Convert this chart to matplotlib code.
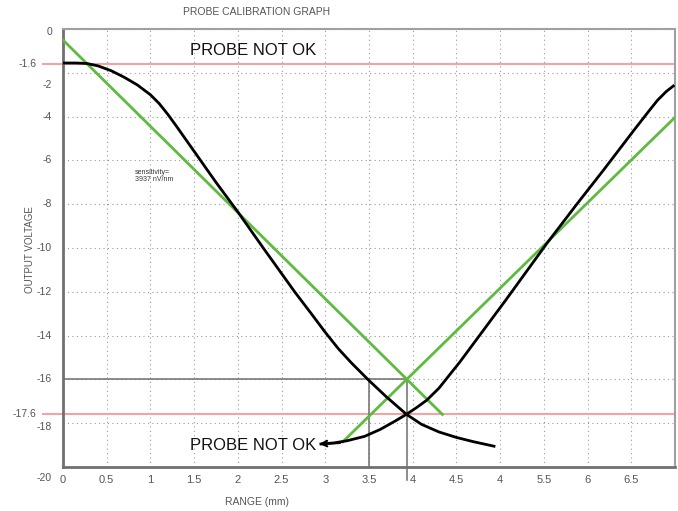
import matplotlib
matplotlib.use("Agg")
import matplotlib.pyplot as plt

# --- Daten ---
down_x = [0, 0.15, 0.27, 0.4, 0.55, 0.7, 0.85, 1.0, 1.1, 1.2, 1.3, 1.45, 1.6, 1.75,
          2.0, 2.3, 2.65, 2.85, 3.0, 3.15, 3.3, 3.5, 3.7, 3.93, 4.1, 4.3, 4.5, 4.7, 4.93]
down_y = [-1.55, -1.55, -1.57, -1.68, -1.9, -2.2, -2.55, -3.0, -3.4, -3.9, -4.45,
          -5.3, -6.15, -7.0, -8.35, -10.05, -12.0, -13.05, -13.85, -14.6, -15.25,
          -16.05, -16.8, -17.6, -18.05, -18.4, -18.65, -18.85, -19.05]

up_x = [2.95, 3.1, 3.25, 3.45, 3.63, 3.8, 3.93, 4.05, 4.16, 4.3, 4.54, 4.8, 5.06,
        5.53, 5.88, 6.18, 6.53, 6.7, 6.8, 6.9, 6.98]
up_y = [-18.95, -18.9, -18.8, -18.6, -18.28, -17.9, -17.59, -17.27, -16.95, -16.4,
        -15.2, -13.8, -12.4, -9.81, -7.98, -6.45, -4.62, -3.75, -3.25, -2.85, -2.6]

green_down_x = [0, 4.34]
green_down_y = [-0.5, -17.6]
green_up_x = [3.2, 7.0]
green_up_y = [-18.85, -4.03]

limit_hi = -1.6
limit_lo = -17.6
x_mark = [3.5, 3.93]
y_mark = -16

xticks = [0, 0.5, 1, 1.5, 2, 2.5, 3, 3.5, 4, 4.5, 5, 5.5, 6, 6.5]
xticklabels = ["0", "0.5", "1", "1.5", "2", "2.5", "3", "3.5", "4", "4.5", "4",
               "5.5", "6", "6.5"]
yticks = [0, -2, -4, -6, -8, -10, -12, -14, -16, -18, -20]
ytick_dy = {0: -2, -2: -9, -18: -3, -20: -8}

plt.rcParams["font.family"] = ["Liberation Sans", "DejaVu Sans"]

fig = plt.figure(figsize=(6.78, 5.11), dpi=100)
ax = fig.add_axes([0.0929, 0.0861, 0.9027, 0.857])

ax.set_xlim(0, 7.0)
ax.set_ylim(-20, 0)

# Gitter
ax.set_xticks(xticks)
ax.set_xticklabels(xticklabels, color="#555555", fontsize=8)
ax.set_yticks(yticks)
ax.set_yticklabels([])
ax.tick_params(length=0, pad=6)
ax.grid(True, linestyle=(0, (1, 3)), color="#9a9a9a", linewidth=0.8)

for v in yticks:
    ax.annotate(str(v), xy=(0, v), xycoords=ax.get_yaxis_transform(),
                xytext=(-8, ytick_dy.get(v, 0)), textcoords="offset points",
                ha="right", va="center", fontsize=7.5, color="#555555")

# Grenzlinien (rot)
for lim in (limit_hi, limit_lo):
    ax.plot([-0.23, 7.0], [lim, lim], color="#f3a3a3", lw=1.5, clip_on=False, zorder=2)
    ax.annotate(str(lim), xy=(0, lim), xycoords=ax.get_yaxis_transform(),
                xytext=(-19, 0), textcoords="offset points",
                ha="right", va="center", fontsize=7.5, color="#555555")

# Markierungslinien
ax.plot([0, x_mark[1]], [y_mark, y_mark], color="#6e6e6e", lw=1.1, zorder=2)
ax.plot([x_mark[0], x_mark[0]], [y_mark, -20], color="#6e6e6e", lw=1.1, zorder=2)
ax.plot([x_mark[1], x_mark[1]], [y_mark, -20.6], color="#6e6e6e", lw=1.1,
        clip_on=False, zorder=2)

# Kurven
ax.plot(green_down_x, green_down_y, color="#5dbb3f", lw=2, zorder=3)
ax.plot(green_up_x, green_up_y, color="#5dbb3f", lw=2, zorder=3)
ax.plot(down_x, down_y, color="black", lw=2, zorder=4, solid_joinstyle="round")
ax.plot(up_x, up_y, color="black", lw=2, zorder=4, solid_joinstyle="round")

ax.annotate("", xy=(2.9, -18.95), xytext=(3.2, -18.9),
            arrowprops=dict(arrowstyle="->", color="black", lw=1.5))

ax.text(1.45, -1.0, "PROBE NOT OK", fontsize=12, color="#111111", va="center")
ax.text(1.45, -19.02, "PROBE NOT OK", fontsize=12, color="#111111", va="center")
ax.text(0.82, -6.7, "sensitivity=\n3937 nV/nm", fontsize=5, color="#333333",
        va="center", linespacing=0.9)

for side in ("top", "right"):
    ax.spines[side].set_color("#a0a0a0")
    ax.spines[side].set_linewidth(1.5)
for side in ("left", "bottom"):
    ax.spines[side].set_color("#707070")
    ax.spines[side].set_linewidth(2)

fig.text(257 / 678, 1 - 12 / 511, "PROBE CALIBRATION GRAPH", ha="center",
         va="center", fontsize=7.5, color="#555555")
fig.text(257 / 678, 1 - 502 / 511, "RANGE (mm)", ha="center", va="center",
         fontsize=7.5, color="#555555")
fig.text(30 / 678, 1 - 250 / 511, "OUTPUT VOLTAGE", ha="center", va="center",
         rotation=90, fontsize=7, color="#555555")

fig.savefig("out.png", dpi=100)
